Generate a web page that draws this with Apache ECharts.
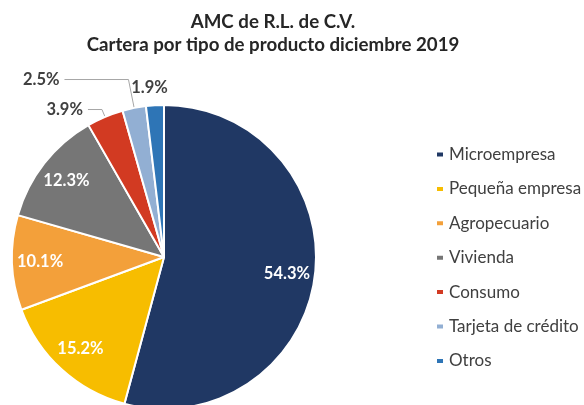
<!DOCTYPE html>
<html style="height: 100%">
<head>
<meta charset="utf-8">
</head>
<body style="height: 100%; margin: 0; background: #fff">
<div id="container" style="width: 584px; height: 405px"></div>
<script src="https://cdn.jsdelivr.net/npm/echarts@6/dist/echarts.min.js"></script>
<script>
var categories = ['Microempresa', 'Pequeña empresa', 'Agropecuario', 'Vivienda', 'Consumo', 'Tarjeta de crédito', 'Otros'];
var shares = [54.3, 15.2, 10.1, 12.3, 3.9, 2.5, 1.9];
var colors = ['#203864', '#F7BD00', '#F3A03A', '#767676', '#D23A22', '#92AFD3', '#2E75B6'];
// the small slices get their label outside
var outside = [false, false, false, false, true, true, true];

var font = 'Lato, sans-serif';
var chart = echarts.init(document.getElementById('container'));

// leader lines for the outside labels (radial part, horizontal part)
var leader = {
    4: { length: 8, length2: 14, show: true },
    5: { length: 29, length2: 64, show: true },
    6: { length: 18, length2: 0, show: false }
};

var mainData = categories.map(function (name, i) {
    var item = {
        name: name,
        value: shares[i],
        itemStyle: { color: colors[i] },
        label: { show: outside[i] },
        labelLine: leader[i] || { show: false }
    };
    if (i === 6) {
        item.label.distanceToLabelLine = -14;
    }
    return item;
});
// transparent ring used only to place the inside labels further out
var labelData = categories.map(function (name, i) {
    return {
        name: name,
        value: shares[i],
        label: { show: !outside[i] }
    };
});

var pctFormat = function (p) { return p.value.toFixed(1) + '%'; };

var option = {
    animation: false,
    color: colors,
    title: {
        text: 'AMC de R.L. de C.V.\nCartera por tipo de producto diciembre 2019',
        left: 268,
        top: 5,
        textAlign: 'center',
        textStyle: { fontFamily: font, fontSize: 18.7, fontWeight: 'bold', color: '#262626', lineHeight: 23 }
    },
    legend: {
        orient: 'vertical',
        left: 430,
        top: 141,
        itemWidth: 8,
        itemHeight: 6,
        itemGap: 17.4,
        icon: 'rect',
        data: categories,
        textStyle: { fontFamily: font, fontSize: 17, color: '#404040' }
    },
    series: [
        {
            type: 'pie',
            center: [164, 257],
            radius: [0, 152],
            startAngle: 90,
            clockwise: true,
            avoidLabelOverlap: false,
            data: mainData,
            itemStyle: { borderColor: '#fff', borderWidth: 2 },
            label: {
                position: 'outside',
                formatter: pctFormat,
                fontFamily: font,
                fontSize: 16.5,
                fontWeight: 'bold',
                color: '#404040'
            },
            labelLine: { lineStyle: { color: '#A6A6A6', width: 1 } }
        },
        {
            type: 'pie',
            center: [164, 257],
            radius: [101, 141],
            startAngle: 90,
            clockwise: true,
            silent: true,
            z: 3,
            data: labelData,
            itemStyle: { color: 'rgba(0,0,0,0)' },
            label: {
                position: 'inside',
                formatter: pctFormat,
                fontFamily: font,
                fontSize: 16.5,
                fontWeight: 'bold',
                color: '#fff'
            },
            labelLine: { show: false }
        }
    ]
};

chart.setOption(option);
</script>
</body>
</html>
